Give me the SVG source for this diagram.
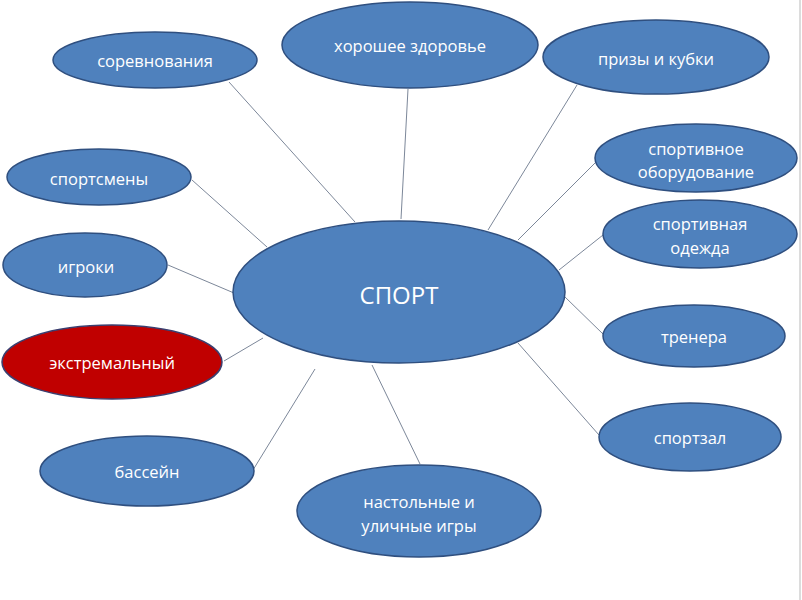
<svg xmlns="http://www.w3.org/2000/svg" width="802" height="600" viewBox="0 0 802 600">
<style>
.n{fill:#4F81BD;stroke:#2F4F7F;stroke-width:1.5}
.r{fill:#C00000;stroke:#3A3F70;stroke-width:1.5}
.t{fill:#FFFFFF;font-family:"Open Sans","Liberation Sans",sans-serif;font-size:16.5px;text-anchor:middle;dominant-baseline:central}
.c line{stroke:#7C8799;stroke-width:1}
</style>
<rect width="802" height="600" fill="#FFFFFF"/>
<line x1="800" y1="0" x2="800" y2="600" stroke="#D0D0D0" stroke-width="1.5"/>
<g class="c" id="connectors">
<line x1="229" y1="82" x2="355" y2="222"/>
<line x1="192" y1="180" x2="267" y2="247"/>
<line x1="168" y1="265" x2="234" y2="293"/>
<line x1="408" y1="89" x2="401" y2="219"/>
<line x1="577" y1="85" x2="488" y2="230"/>
<line x1="595" y1="163" x2="518" y2="240"/>
<line x1="603" y1="235" x2="559" y2="270"/>
<line x1="565" y1="297" x2="603" y2="334"/>
<line x1="518" y1="343" x2="599" y2="435"/>
<line x1="372" y1="365" x2="420" y2="464"/>
<line x1="315" y1="369" x2="253" y2="470"/>
<line x1="263" y1="338" x2="224" y2="361"/>
</g>
<g id="sport"><ellipse class="n" cx="399" cy="292" rx="166" ry="71"/><text class="t" x="399" y="294" style="font-size:24px">СПОРТ</text></g>
<g id="sorevnovaniya"><ellipse class="n" cx="155" cy="60" rx="102" ry="28"/><text class="t" x="155" y="60">соревнования</text></g>
<g id="zdorovye"><ellipse class="n" cx="410" cy="45" rx="128" ry="43"/><text class="t" x="410" y="45">хорошее здоровье</text></g>
<g id="prizy"><ellipse class="n" cx="656" cy="57" rx="113" ry="37"/><text class="t" x="656" y="58">призы и кубки</text></g>
<g id="oborudovanie"><ellipse class="n" cx="696" cy="158" rx="101" ry="34"/><text class="t" x="696" y="148">спортивное</text><text class="t" x="696" y="171">оборудование</text></g>
<g id="odezhda"><ellipse class="n" cx="700" cy="234" rx="97" ry="34"/><text class="t" x="700" y="223">спортивная</text><text class="t" x="700" y="247">одежда</text></g>
<g id="trenera"><ellipse class="n" cx="694" cy="336" rx="91" ry="31"/><text class="t" x="694" y="336">тренера</text></g>
<g id="sportzal"><ellipse class="n" cx="690" cy="437" rx="91" ry="34"/><text class="t" x="690" y="437">спортзал</text></g>
<g id="igry"><ellipse class="n" cx="419" cy="511" rx="122" ry="46"/><text class="t" x="419" y="501">настольные и</text><text class="t" x="419" y="525">уличные игры</text></g>
<g id="basseyn"><ellipse class="n" cx="147" cy="471" rx="107" ry="35"/><text class="t" x="147" y="471">бассейн</text></g>
<g id="ekstremalny"><ellipse class="r" cx="112" cy="362" rx="110" ry="37"/><text class="t" x="112" y="362">экстремальный</text></g>
<g id="igroki"><ellipse class="n" cx="85" cy="265" rx="82" ry="32"/><text class="t" x="86" y="266">игроки</text></g>
<g id="sportsmeny"><ellipse class="n" cx="99" cy="177" rx="92" ry="28"/><text class="t" x="99" y="178">спортсмены</text></g>
</svg>
